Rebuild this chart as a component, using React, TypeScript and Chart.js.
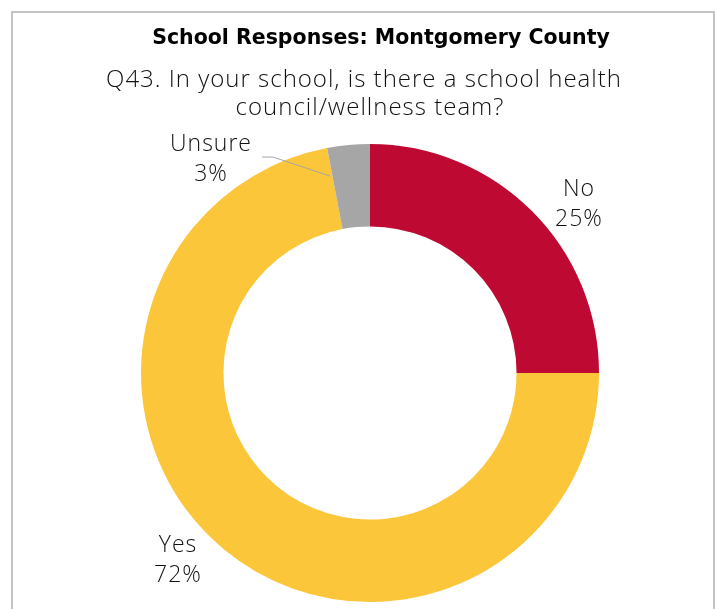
import React, { useEffect, useRef } from 'react';
import { Chart, registerables } from 'chart.js';

Chart.register(...registerables);

// ---- data ----
const categories = ['No', 'Yes', 'Unsure'];
const values = [25, 72, 3];
const sliceColors = ['#BE0A32', '#FCC63A', '#A6A6A6'];
const chartTitle = 'School Responses: Montgomery County';
const questionLines = ['Q43. In your school, is there a school health', 'council/wellness team?'];

// ---- layout config (label anchors in units of outer radius, relative to the doughnut centre) ----
const labelAnchors: [number, number][] = [
  [0.9127, -0.773],
  [-0.8384, 0.782],
  [-0.6943, -0.969],
];
const leaderIndex = 2;
const leaderPoints: [number, number][] = [
  [-0.4716, -0.943],
  [-0.4236, -0.943],
  [-0.1747, -0.86],
];

const LABEL_FONT = '300 23px "Open Sans"';
const TEXT_COLOR = '#111111';

const headerPlugin = {
  id: 'headerText',
  afterDraw(chart: any) {
    const ctx = chart.ctx;
    ctx.save();
    ctx.fillStyle = '#000';
    ctx.textAlign = 'center';
    ctx.textBaseline = 'alphabetic';
    ctx.font = 'bold 20.5px "DejaVu Sans"';
    ctx.fillText(chartTitle, 381, 44);
    ctx.fillStyle = TEXT_COLOR;
    ctx.font = '300 24px "Open Sans"';
    (ctx as any).letterSpacing = '1px';
    ctx.fillText(questionLines[0], 364, 87);
    ctx.fillText(questionLines[1], 370, 115);
    ctx.restore();
  },
};

const sliceLabelPlugin = {
  id: 'sliceLabels',
  afterDatasetsDraw(chart: any) {
    const ctx = chart.ctx;
    const meta = chart.getDatasetMeta(0);
    ctx.save();
    meta.data.forEach((arc: any, i: number) => {
      const { x, y, outerRadius } = arc.getProps(['x', 'y', 'outerRadius'], true);
      const R = outerRadius;
      if (i === leaderIndex) {
        ctx.beginPath();
        ctx.strokeStyle = '#A6A6A6';
        ctx.lineWidth = 1;
        leaderPoints.forEach((p, k) => {
          const px = x + p[0] * R;
          const py = y + p[1] * R;
          if (k === 0) ctx.moveTo(px, py);
          else ctx.lineTo(px, py);
        });
        ctx.stroke();
      }
      const ax = x + labelAnchors[i][0] * R;
      const ay = y + labelAnchors[i][1] * R;
      ctx.fillStyle = TEXT_COLOR;
      ctx.font = LABEL_FONT;
      (ctx as any).letterSpacing = '1px';
      ctx.textAlign = 'center';
      ctx.textBaseline = 'alphabetic';
      ctx.fillText(categories[i], ax, ay);
      ctx.fillText(`${values[i]}%`, ax, ay + 30);
    });
    ctx.restore();
  },
};

export default function App() {
  const canvasRef = useRef<HTMLCanvasElement | null>(null);

  useEffect(() => {
    if (!canvasRef.current) return;
    const chart = new Chart(canvasRef.current, {
      type: 'doughnut',
      data: {
        labels: categories,
        datasets: [
          {
            data: values,
            backgroundColor: sliceColors,
            borderWidth: 0,
          },
        ],
      },
      options: {
        responsive: false,
        animation: false,
        cutout: '64%',
        layout: { padding: { top: 144, bottom: 7, left: 24, right: 0 } },
        plugins: {
          legend: { display: false },
          tooltip: { enabled: false },
          title: { display: false },
        },
      },
      plugins: [headerPlugin, sliceLabelPlugin],
    });
    return () => chart.destroy();
  }, []);

  return (
    <div
      style={{
        position: 'fixed',
        left: 0,
        top: 0,
        width: 716,
        height: 609,
        overflow: 'hidden',
        background: '#fff',
      }}
    >
      <div
        style={{
          position: 'absolute',
          left: 11,
          top: 11,
          width: 700,
          height: 700,
          border: '2px solid #C4C4C4',
        }}
      />
      <canvas ref={canvasRef} width={716} height={609} style={{ position: 'absolute', left: 0, top: 0 }} />
    </div>
  );
}
